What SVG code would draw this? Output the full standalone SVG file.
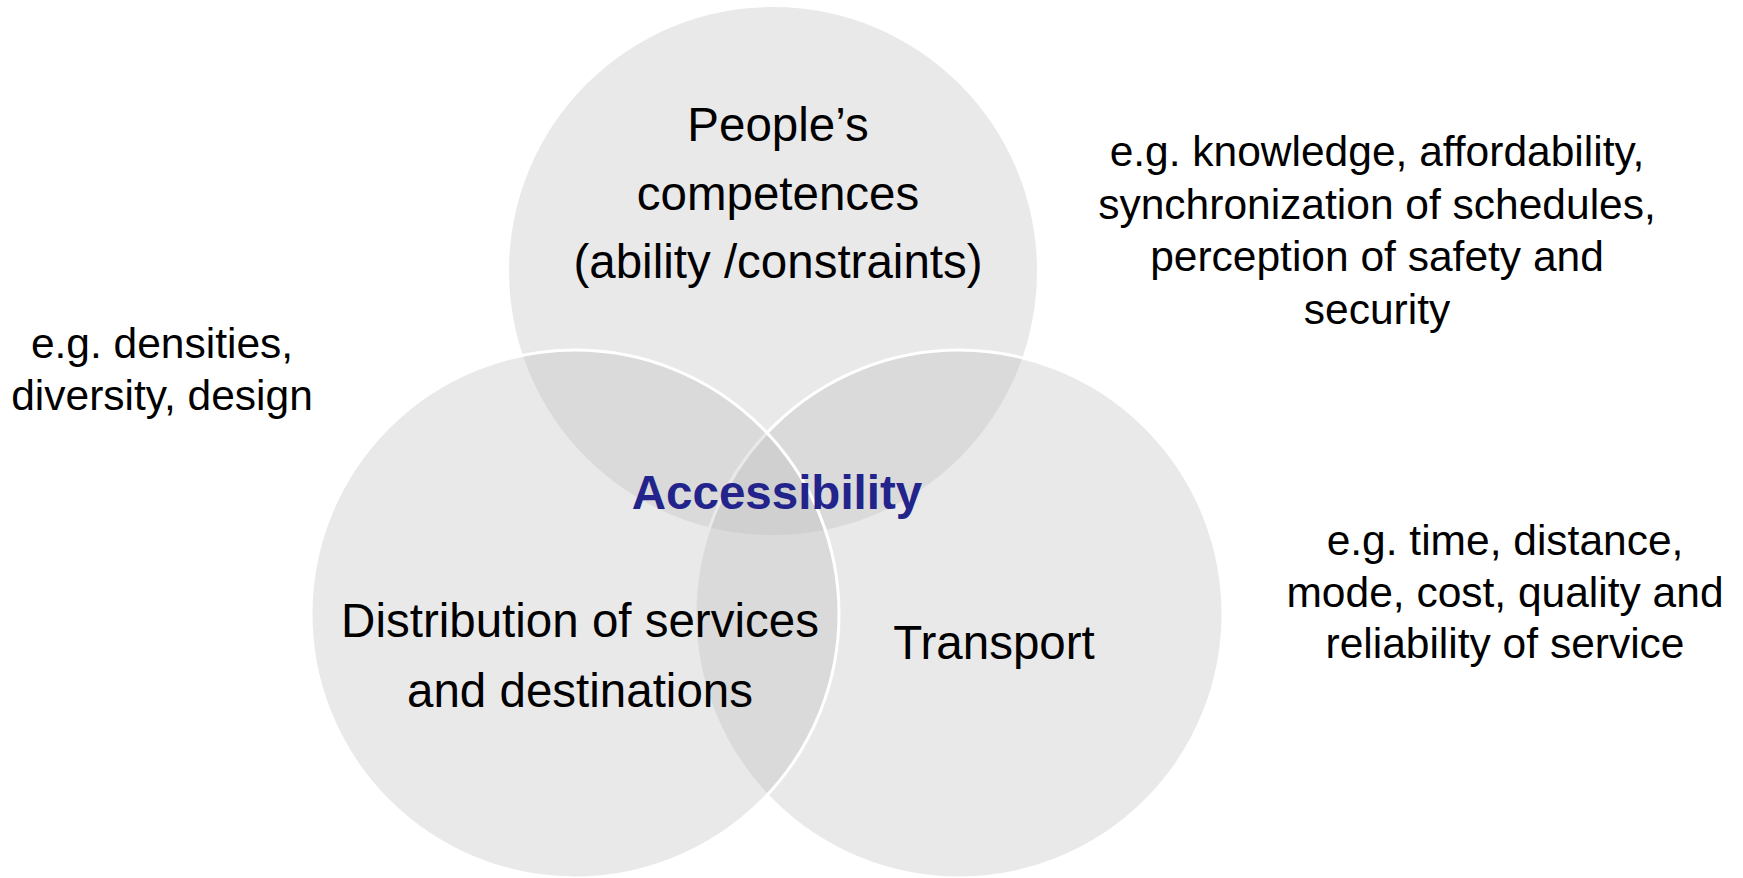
<svg xmlns="http://www.w3.org/2000/svg" width="1743" height="878" viewBox="0 0 1743 878">
<style>
.c{fill:#bababa;fill-opacity:0.32;stroke:#ffffff;stroke-width:3}
.t{font-family:"Liberation Sans",Arial,sans-serif;font-size:47.5px;fill:#000;text-anchor:middle}
.a{font-family:"Liberation Sans",Arial,sans-serif;font-size:42.5px;fill:#000;text-anchor:middle}
.acc{font-family:"Liberation Sans",Arial,sans-serif;font-size:47.5px;font-weight:bold;fill:#23238c;text-anchor:middle}
</style>
<rect width="1743" height="878" fill="#ffffff"/>
<g id="people">
<circle cx="773" cy="271" r="264" fill="#bababa" fill-opacity="0.32"/>
<text class="t" x="778" y="141">People’s</text>
<text class="t" x="778" y="210">competences</text>
<text class="t" x="778" y="278">(ability /constraints)</text>
</g>
<g id="transport">
<circle class="c" cx="959" cy="614" r="264"/>
<text class="t" x="994" y="659">Transport</text>
</g>
<g id="distribution">
<circle class="c" cx="575" cy="614" r="264"/>
<text class="t" x="580" y="637">Distribution of services</text>
<text class="t" x="580" y="707">and destinations</text>
</g>
<g id="accessibility">
<text class="acc" x="777" y="509">Accessibility</text>
</g>
<g id="note-left">
<text class="a" x="162" y="358">e.g. densities,</text>
<text class="a" x="162" y="410">diversity, design</text>
</g>
<g id="note-top-right">
<text class="a" x="1377" y="166">e.g. knowledge, affordability,</text>
<text class="a" x="1377" y="219">synchronization of schedules,</text>
<text class="a" x="1377" y="271">perception of safety and</text>
<text class="a" x="1377" y="324">security</text>
</g>
<g id="note-bottom-right">
<text class="a" x="1505" y="555">e.g. time, distance,</text>
<text class="a" x="1505" y="607">mode, cost, quality and</text>
<text class="a" x="1505" y="658">reliability of service</text>
</g>
<g id="connectors"></g>
</svg>
